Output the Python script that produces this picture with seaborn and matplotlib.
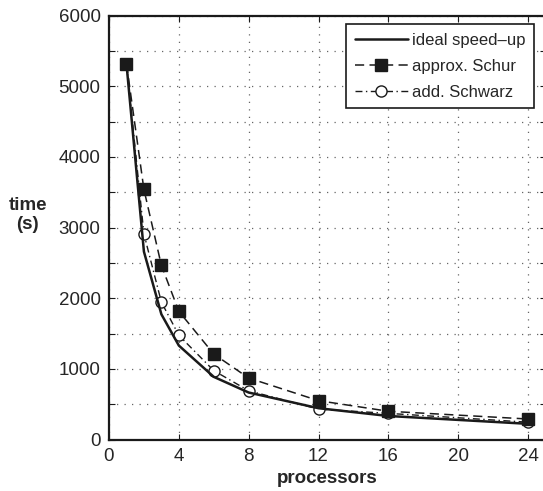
import matplotlib
matplotlib.use("Agg")
import matplotlib.pyplot as plt
import seaborn as sns
from matplotlib.ticker import MultipleLocator

procs = [1, 2, 3, 4, 6, 8, 12, 16, 24]
ideal = [5320, 2660, 1773, 1330, 887, 665, 443, 333, 222]
schur = [5320, 3540, 2465, 1815, 1210, 870, 550, 400, 290]
schwarz = [5320, 2910, 1945, 1475, 975, 690, 430, 370, 245]
x_ticks = [0, 4, 8, 12, 16, 20, 24]
y_ticks = [0, 1000, 2000, 3000, 4000, 5000, 6000]

sns.set_theme(style="ticks")
plt.rcParams['font.family'] = ['Liberation Sans', 'DejaVu Sans']

fig = plt.figure(figsize=(5.43, 4.91), dpi=100)
ax = fig.add_axes([109 / 543, 1 - 439.5 / 491, 436.5 / 543, 423.8 / 491])

sns.lineplot(x=procs, y=schwarz, ax=ax, color='k', lw=1.0,
             linestyle=(0, (5, 2.5, 1, 2.5)), marker='o', markersize=8,
             markerfacecolor='white', markeredgecolor='k', markeredgewidth=1.0,
             label='add. Schwarz')
sns.lineplot(x=procs, y=schur, ax=ax, color='k', lw=1.1,
             linestyle=(0, (6, 3.5)), marker='s', markersize=8,
             markerfacecolor='k', markeredgecolor='k', markeredgewidth=1.0,
             label='approx. Schur')
sns.lineplot(x=procs, y=ideal, ax=ax, color='k', lw=1.8, linestyle='-',
             label='ideal speed\u2013up')

ax.set_xlim(0, 25)
ax.set_ylim(0, 6000)
ax.set_xticks(x_ticks)
ax.set_yticks(y_ticks)
ax.yaxis.set_minor_locator(MultipleLocator(500))
ax.tick_params(axis='both', which='both', direction='in', top=True, right=True,
               length=4, width=0.8, labelsize=13.5, color='k', pad=6)
ax.tick_params(axis='y', which='minor', length=4)
ax.grid(True, which='both', linestyle=(0, (1, 5)), color='0.4', linewidth=0.9)
for s in ax.spines.values():
    s.set_linewidth(1.6)
    s.set_color('k')

ax.set_xlabel('processors', fontsize=13.5, fontweight='bold', labelpad=4)
ax.set_ylabel('time\n(s)', fontsize=13.5, fontweight='bold', rotation=0,
              ha='center', va='center', linespacing=1.1)
ax.yaxis.set_label_coords(-0.186, 0.53)

h, l = ax.get_legend_handles_labels()
order = [2, 1, 0]
leg = ax.legend([h[i] for i in order], [l[i] for i in order], loc='upper right',
                bbox_to_anchor=(0.9737, 0.980), borderaxespad=0, fontsize=12,
                frameon=True, fancybox=False, framealpha=1, edgecolor='k',
                handlelength=3.2, handletextpad=0.25, labelspacing=0.66,
                borderpad=0.5)
leg.get_frame().set_linewidth(1.2)

fig.savefig('out.png', dpi=100)
